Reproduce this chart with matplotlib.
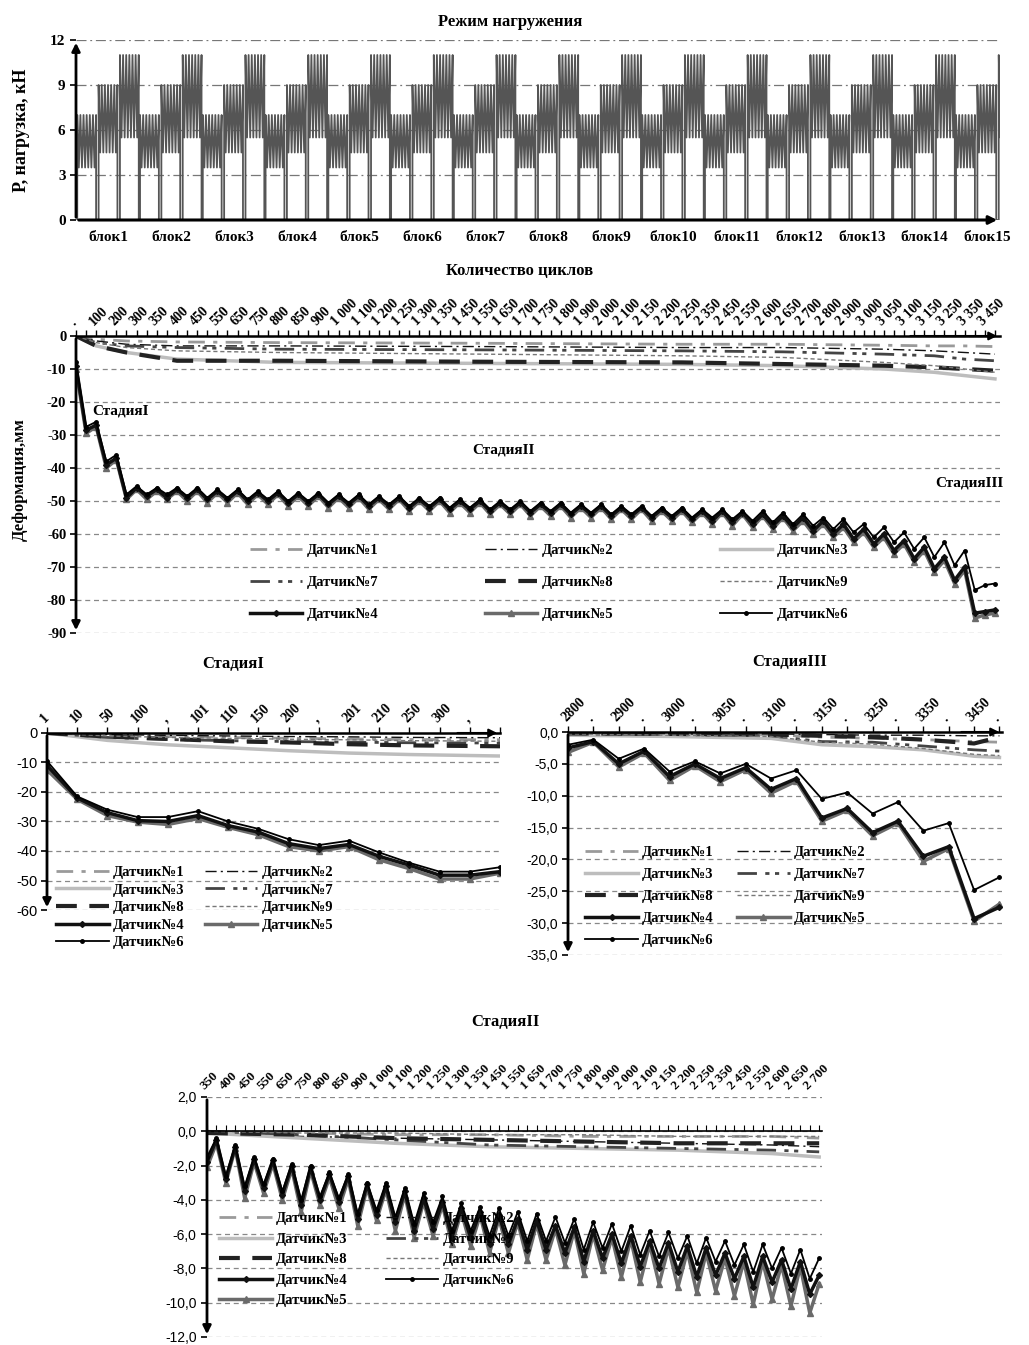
import numpy as np
import matplotlib.pyplot as plt

plt.rcParams['font.family'] = ['Liberation Serif', 'DejaVu Serif']
plt.rcParams['axes.unicode_minus'] = False

# ---- loading program (top chart) ----
BLOCKS = ['блок%d' % i for i in range(1, 16)]
LOAD_LEVELS = [(3.5, 7.0), (4.5, 9.0), (5.5, 11.0)]   # (min, max) kN of each stage in a block
CYCLES_PER_LEVEL = 6

# ---- full test: deformation vs cycles ----
MAIN_LABELS = ['.', '100', '200', '300', '350', '400', '450', '550', '650', '750', '800',
               '850', '900', '1 000', '1 100', '1 200', '1 250', '1 300', '1 350', '1 450',
               '1 550', '1 650', '1 700', '1 750', '1 800', '1 900', '2 000', '2 100',
               '2 150', '2 200', '2 250', '2 350', '2 450', '2 550', '2 600', '2 650',
               '2 700', '2 800', '2 900', '3 000', '3 050', '3 100', '3 150', '3 250',
               '3 350', '3 450']
main_s4 = [-9, -28.5, -27, -39, -37, -49, -46, -48.5, -46.5, -49, -46.5, -49, -46.5, -49.5,
           -47, -49.5, -47, -50, -47.5, -50, -47.5, -50.5, -48, -50.5, -48, -51, -48.5, -51,
           -48.5, -51.5, -49, -51.5, -49, -52, -49.5, -52, -49.5, -52.5, -50, -52.5, -50, -53,
           -50.5, -53, -50.5, -53.5, -51, -53.5, -51, -54, -51.5, -54, -51.5, -54.5, -52,
           -54.5, -52, -55, -52.5, -55, -52.5, -55.5, -53, -56, -53, -56.5, -53.5, -57, -54,
           -57.5, -54.5, -58, -55, -59, -56, -60, -57, -61.5, -58.5, -63, -60, -65, -62, -67.5,
           -64, -70.5, -67, -74, -70, -84, -83.5, -83]
main_s5 = [-10, -29.5, -27.5, -40, -37.5, -49.5, -46.5, -49.5, -47, -49.5, -47, -50, -47,
           -50.5, -47.5, -50.5, -47.5, -51, -48, -51, -48, -51.5, -48.5, -51.5, -48.5, -52,
           -49, -52, -49, -52.5, -49.5, -52.5, -49.5, -53, -50, -53, -50, -53.5, -50.5, -53.5,
           -50.5, -54, -51, -54, -51, -54.5, -51.5, -54.5, -51.5, -55, -52, -55, -52, -55.5,
           -52.5, -55.5, -52.5, -56, -53, -56, -53, -56.5, -53.5, -57, -53.5, -57.5, -54, -58,
           -54.5, -58.5, -55, -59, -56, -60, -57, -61, -58, -62.5, -59.5, -64, -61, -66, -63,
           -68.5, -65, -71.5, -68, -75, -71, -85.5, -84.5, -84]
main_s6 = [-8, -27.5, -26, -38, -36, -48, -45.5, -48, -46, -48, -46, -48.5, -46, -49, -46.5,
           -49, -46.5, -49.5, -47, -49.5, -47, -50, -47.5, -50, -47.5, -50.5, -48, -50.5, -48,
           -51, -48.5, -51, -48.5, -51.5, -49, -51.5, -49, -52, -49.5, -52, -49.5, -52.5, -50,
           -52.5, -50, -53, -50.5, -53, -50.5, -53.5, -51, -53.5, -51, -54, -51.5, -54, -51.5,
           -54.5, -52, -54.5, -52, -55, -52.5, -55, -52.5, -55.5, -53, -56, -53, -56.5, -53.5,
           -57, -54, -57.5, -55, -58.5, -55.5, -59.5, -57, -61, -58, -62.5, -59.5, -64.5, -61,
           -67, -62.5, -69.5, -65, -77, -75.5, -75]
main_light_idx = [0, 2, 5, 10, 20, 40, 60, 70, 80, 85, 88, 91]
main_light = {
    1: [0, -1, -1.5, -1.8, -2, -2.2, -2.5, -2.5, -2.8, -3, -3, -3.2],
    2: [0, -1.5, -2.5, -3, -3, -3.2, -3.5, -3.5, -4, -4.5, -5, -5.5],
    3: [0, -3, -5, -7, -8, -8.3, -8.6, -9, -10, -11, -12, -13],
    7: [0, -2, -3, -3.5, -4, -4.2, -4.5, -4.8, -5.5, -6, -7, -7.5],
    8: [0, -3, -5, -7.5, -7.5, -7.8, -8, -8.5, -9, -9.5, -10, -10.5],
    9: [0, -2, -3.5, -4.5, -5, -5.5, -6, -6.5, -8, -9, -10, -11],
}

# ---- stage I ----
ST1_LABELS = ['1', '10', '50', '100', ',', '101', '110', '150', '200', ',', '201', '210',
              '250', '300', ',', '']
st1_s4 = [-11, -22, -27, -29.7, -30, -28, -31.4, -33.6, -37.5, -39.2, -37.8, -41.8, -44.8,
          -48.2, -48.2, -47]
st1_s5 = [-12.5, -22.5, -28, -30.2, -31, -29, -32, -34.5, -38.5, -40, -38.5, -43, -46,
          -49.5, -49.5, -47.5]
st1_s6 = [-9.5, -21.5, -26, -28.5, -28.5, -26.5, -30, -32.5, -36, -38, -36.5, -40.5, -44,
          -47, -47, -45.5]
st1_light_idx = [0, 2, 4, 6, 8, 10, 12, 15]
st1_light = {
    1: [0, -0.8, -1.2, -1.5, -1.8, -2.0, -2.2, -2.3],
    2: [0, -0.5, -0.8, -1.0, -1.2, -1.3, -1.5, -1.6],
    3: [0, -2.5, -4.0, -5.0, -6.0, -6.8, -7.3, -7.8],
    7: [0, -1.5, -2.2, -2.6, -2.9, -3.1, -3.3, -3.4],
    8: [0, -1.2, -2.0, -2.8, -3.2, -3.8, -4.2, -4.5],
    9: [0, -1.0, -1.5, -1.8, -2.1, -2.3, -2.6, -2.8],
}

# ---- stage III ----
ST3_LABELS = ['2800', '.', '2900', '.', '3000', '.', '3050', '.', '3100', '.', '3150', '.',
              '3250', '.', '3350', '.', '3450', '.']
st3_s4 = [-2.5, -1.5, -5.0, -3.0, -7.0, -5.0, -7.3, -5.6, -9.0, -7.3, -13.5, -12.0, -15.8,
          -14.0, -19.5, -18.0, -29.3, -27.5]
st3_s5 = [-3.2, -1.6, -5.5, -3.3, -7.6, -5.3, -7.8, -5.9, -9.6, -7.7, -14.0, -12.3, -16.3,
          -14.3, -20.3, -18.3, -29.7, -27.0]
st3_s6 = [-2.0, -1.2, -4.2, -2.6, -6.2, -4.6, -6.5, -5.0, -7.3, -6.0, -10.5, -9.5, -12.8,
          -11.0, -15.5, -14.3, -24.8, -22.8]
st3_light_idx = [0, 4, 8, 10, 12, 14, 16, 17]
st3_light = {
    1: [-0.2, -0.3, -0.4, -0.8, -1.0, -1.2, -1.5, -1.6],
    2: [-0.2, -0.3, -0.3, -0.4, -0.5, -0.5, -0.6, -0.6],
    3: [-0.5, -0.7, -1.0, -2.0, -2.3, -2.8, -3.8, -4.0],
    7: [-0.3, -0.4, -0.6, -1.5, -1.6, -2.2, -2.8, -3.0],
    8: [-0.2, -0.3, -0.4, -0.6, -0.8, -1.2, -1.8, -0.8],
    9: [-0.3, -0.5, -0.7, -1.6, -1.9, -2.6, -3.5, -3.7],
}

# ---- stage II ----
ST2_LABELS = ['350', '400', '450', '550', '650', '750', '800', '850', '900', '1 000', '1 100',
              '1 200', '1 250', '1 300', '1 350', '1 450', '1 550', '1 650', '1 700', '1 750',
              '1 800', '1 900', '2 000', '2 100', '2 150', '2 200', '2 250', '2 350', '2 450',
              '2 550', '2 600', '2 650', '2 700']
st2_s4 = [-1.8, -0.5, -2.8, -0.9, -3.5, -1.6, -3.3, -1.7, -3.7, -2.0,
          -4.3, -2.1, -4.0, -2.5, -4.1, -2.6, -5.1, -3.1, -4.9, -3.2,
          -5.3, -3.5, -5.8, -3.9, -5.7, -4.1, -6.2, -4.5, -6.2, -4.7,
          -6.6, -4.9, -6.6, -5.1, -6.9, -5.2, -6.9, -5.5, -7.1, -5.6,
          -7.6, -5.8, -7.4, -6.0, -7.7, -6.1, -7.9, -6.4, -8.0, -6.5,
          -8.2, -6.7, -8.5, -6.8, -8.4, -7.1, -8.6, -7.3, -9.1, -7.3,
          -8.8, -7.5, -9.2, -7.6, -9.5, -8.4]
st2_s5 = [-2.1, -0.7, -3.0, -1.0, -3.9, -1.8, -3.6, -1.9, -4.0, -2.2,
          -4.7, -2.3, -4.3, -2.7, -4.5, -2.8, -5.5, -3.3, -5.2, -3.4,
          -5.8, -3.7, -6.2, -4.1, -6.1, -4.3, -6.6, -4.7, -6.7, -4.9,
          -7.1, -5.1, -7.1, -5.3, -7.5, -5.4, -7.5, -5.7, -7.8, -5.8,
          -8.3, -6.0, -8.1, -6.2, -8.5, -6.3, -8.8, -6.6, -8.9, -6.8,
          -9.1, -7.0, -9.4, -7.1, -9.3, -7.4, -9.6, -7.6, -10.1, -7.6,
          -9.8, -7.8, -10.2, -7.9, -10.6, -8.9]
st2_s6 = [-1.5, -0.4, -2.6, -0.8, -3.2, -1.5, -3.1, -1.6, -3.5, -1.9,
          -4.0, -2.0, -3.8, -2.4, -3.9, -2.5, -4.8, -3.0, -4.6, -3.0,
          -5.0, -3.3, -5.4, -3.6, -5.3, -3.8, -5.8, -4.2, -5.8, -4.4,
          -6.1, -4.5, -6.1, -4.7, -6.4, -4.8, -6.4, -5.0, -6.5, -5.1,
          -6.9, -5.3, -6.8, -5.4, -7.0, -5.5, -7.2, -5.8, -7.3, -5.9,
          -7.4, -6.1, -7.7, -6.2, -7.6, -6.4, -7.8, -6.6, -8.2, -6.6,
          -8.0, -6.8, -8.3, -6.9, -8.6, -7.4]
st2_light_idx = [0, 10, 20, 30, 40, 50, 60, 65]
st2_light = {
    1: [0, -0.1, -0.2, -0.2, -0.3, -0.3, -0.3, -0.4],
    2: [-0.1, -0.3, -0.4, -0.5, -0.6, -0.7, -0.8, -0.9],
    3: [-0.1, -0.4, -0.7, -0.9, -1.0, -1.1, -1.3, -1.5],
    7: [0, -0.2, -0.5, -0.8, -0.9, -1.0, -1.1, -1.2],
    8: [-0.1, -0.2, -0.4, -0.5, -0.6, -0.7, -0.7, -0.7],
    9: [0, -0.1, -0.1, -0.2, -0.2, -0.3, -0.3, -0.3],
}

STYLE = {
    1: dict(color='#9a9a9a', lw=2.0, ls=(0, (6, 3, 1.5, 3))),
    2: dict(color='#111111', lw=1.0, ls=(0, (8, 3, 1.5, 3))),
    3: dict(color='#bdbdbd', lw=2.5, ls='-'),
    7: dict(color='#444444', lw=2.0, ls=(0, (7, 3, 1.5, 2, 1.5, 3))),
    8: dict(color='#222222', lw=3.0, ls=(0, (5, 3))),
    9: dict(color='#777777', lw=1.0, ls=(0, (3, 2))),
    4: dict(color='#111111', lw=2.5, marker='D', ms=3),
    5: dict(color='#6a6a6a', lw=2.5, marker='^', ms=4),
    6: dict(color='#000000', lw=1.3, marker='o', ms=2.5),
}

W, H = 1029, 1345
fig = plt.figure(figsize=(W / 100, H / 100), dpi=100)


def box(l, t, r, b):
    return [l / W, 1 - b / H, (r - l) / W, (b - t) / H]


def ftext(x, y, s, **kw):
    fig.text(x / W, 1 - y / H, s, ha='center', va='center', **kw)


def sensors(ax, heavy, light_idx, light):
    h = {}
    for n, vals in light.items():
        h[n], = ax.plot(light_idx, vals, **STYLE[n])
    for n, vals in heavy.items():
        h[n], = ax.plot(range(len(vals)), vals, **STYLE[n], zorder=3)
    return h


def frame(ax, yticks, ylabels, yfont, arrow_x=True):
    ax.set_yticks(yticks)
    ax.set_yticklabels(ylabels, **yfont)
    ax.yaxis.grid(True, ls=(0, (4, 3)), color='#888888', lw=0.9)
    ax.set_axisbelow(True)
    for s in ['left', 'right', 'bottom']:
        ax.spines[s].set_visible(False)
    ax.spines['top'].set_linewidth(1.8)
    ax.tick_params(axis='y', length=4, width=1.2, pad=3)
    ax.annotate('', xy=(0, 0), xytext=(0, 1), xycoords='axes fraction',
                arrowprops=dict(arrowstyle='-|>', color='k', lw=2, mutation_scale=12))
    if arrow_x:
        ax.annotate('', xy=(1.0, 1), xytext=(0.9, 1), xycoords='axes fraction',
                    arrowprops=dict(arrowstyle='-|>', color='k', lw=1.5, mutation_scale=12))


def top_labels(ax, n, labels, step, fs, **kw):
    ax.xaxis.tick_top()
    ax.set_xticks(range(n))
    full = [''] * n
    for i, lab in enumerate(labels):
        if i * step < n:
            full[i * step] = lab
    ax.set_xticklabels(full, rotation=45, ha='left', rotation_mode='anchor', fontsize=fs, **kw)
    ax.tick_params(axis='x', direction='out', length=4, width=1, pad=2)


LEG = dict(frameon=False, handlelength=3.6, handletextpad=0.3, borderaxespad=0, borderpad=0,
           prop=dict(family='Liberation Serif', weight='bold', size=10.5))

# ---------- panel 1: loading ----------
ax1 = fig.add_axes(box(76, 40, 1000, 220))
px, py = [], []
for b in range(len(BLOCKS)):
    for k, (lo, hi) in enumerate(LOAD_LEVELS):
        x0 = b + k * 0.34
        xs = np.linspace(x0, x0 + 0.3, 2 * CYCLES_PER_LEVEL + 1)
        px.append(x0)
        py.append(0)
        for i, x in enumerate(xs):
            px.append(x)
            py.append(hi if i % 2 == 0 else lo)
        px.append(xs[-1])
        py.append(0)
ax1.plot(px, py, color='#555555', lw=1.3)
ax1.set_xlim(-0.02, 14.7)
ax1.set_ylim(0, 12)
ax1.set_yticks([0, 3, 6, 9, 12])
ax1.set_yticklabels(['0', '3', '6', '9', '12'], fontsize=11, weight='bold')
ax1.yaxis.grid(True, ls=(0, (8, 3, 1.5, 3)), color='#777777', lw=0.9)
ax1.set_xticks(np.arange(len(BLOCKS)) + 0.5)
ax1.set_xticklabels(BLOCKS, fontsize=11, weight='bold')
ax1.tick_params(axis='x', length=0, pad=8)
ax1.tick_params(axis='y', length=4, width=1.2)
for s in ['left', 'right', 'top', 'bottom']:
    ax1.spines[s].set_visible(False)
ax1.annotate('', xy=(0, 1.0), xytext=(0, 0), xycoords='axes fraction',
             arrowprops=dict(arrowstyle='-|>', color='k', lw=2, mutation_scale=12))
ax1.annotate('', xy=(1.0, 0), xytext=(0, 0), xycoords='axes fraction',
             arrowprops=dict(arrowstyle='-|>', color='k', lw=2.2, mutation_scale=12))
ftext(510, 22, 'Режим нагружения', fontsize=12, weight='bold')
ftext(22, 130, 'Р, нагрузка, кН', fontsize=13, weight='bold', rotation=90)

# ---------- panel 2: whole test ----------
ax2 = fig.add_axes(box(76, 336, 1000, 633))
h = sensors(ax2, {5: main_s5, 4: main_s4, 6: main_s6}, main_light_idx, main_light)
ax2.set_xlim(0, 91.5)
ax2.set_ylim(-90, 0)
frame(ax2, range(0, -91, -10), [str(v) for v in range(0, -91, -10)],
      dict(fontsize=10.5, weight='bold'))
top_labels(ax2, 92, MAIN_LABELS, 2, 10, weight='bold')
ax2.text(1.6, -22.7, 'СтадияI', fontsize=11, weight='bold', va='center')
ax2.text(42.3, -34.5, 'СтадияII', fontsize=11, weight='bold', ha='center', va='center')
ax2.text(88.5, -44.5, 'СтадияIII', fontsize=11, weight='bold', ha='center', va='center')
order = [1, 7, 4, 2, 8, 5, 3, 9, 6]
ax2.legend([h[n] for n in order], ['Датчик№%d' % n for n in order], ncol=3,
           loc='upper left', bbox_to_anchor=(0.188, 0.30), labelspacing=1.3,
           columnspacing=7.3, **LEG)
ftext(520, 271, 'Количество циклов', fontsize=12, weight='bold')
ftext(20, 480, 'Деформация,мм', fontsize=12, weight='bold', rotation=90)

# ---------- panel 3: stage I ----------
ax3 = fig.add_axes(box(47, 733, 500, 910))
h = sensors(ax3, {5: st1_s5, 4: st1_s4, 6: st1_s6}, st1_light_idx, st1_light)
ax3.set_xlim(0, 15)
ax3.set_ylim(-60, 0)
frame(ax3, range(0, -61, -10), [str(v) for v in range(0, -61, -10)],
      dict(fontsize=10.5, family='Liberation Sans'))
top_labels(ax3, 16, ST1_LABELS, 1, 10, weight='bold')
order = [1, 3, 8, 4, 6, 2, 7, 9, 5]
ax3.legend([h[n] for n in order], ['Датчик№%d' % n for n in order], ncol=2,
           loc='upper left', bbox_to_anchor=(0.02, 0.25), labelspacing=0.3,
           columnspacing=1.4, **LEG)
ftext(233, 664, 'СтадияI', fontsize=12, weight='bold')

# ---------- panel 4: stage III ----------
ax4 = fig.add_axes(box(568, 732, 1002, 955))
h = sensors(ax4, {5: st3_s5, 4: st3_s4, 6: st3_s6}, st3_light_idx, st3_light)
ax4.set_xlim(0, 17.1)
ax4.set_ylim(-35, 0)
vals = [0, -5, -10, -15, -20, -25, -30, -35]
frame(ax4, vals, [('%.1f' % v).replace('.', ',') for v in vals],
      dict(fontsize=10, family='Liberation Sans'))
top_labels(ax4, 18, ST3_LABELS, 1, 10, weight='bold')
ax4.legend([h[n] for n in order], ['Датчик№%d' % n for n in order], ncol=2,
           loc='upper left', bbox_to_anchor=(0.04, 0.49), labelspacing=0.6,
           columnspacing=1.6, **LEG)
ftext(790, 662, 'СтадияIII', fontsize=12, weight='bold')

# ---------- panel 5: stage II ----------
ax5 = fig.add_axes(box(207, 1097, 822, 1337))
h = sensors(ax5, {5: st2_s5, 4: st2_s4, 6: st2_s6}, st2_light_idx, st2_light)
ax5.set_xlim(0, 65.3)
ax5.set_ylim(-12, 2)
vals = [2, 0, -2, -4, -6, -8, -10, -12]
ax5.set_yticks(vals)
ax5.set_yticklabels([('%.1f' % v).replace('.', ',') for v in vals], fontsize=10,
                    family='Liberation Sans')
ax5.yaxis.grid(True, ls=(0, (4, 3)), color='#888888', lw=0.9)
ax5.set_axisbelow(True)
for s in ['left', 'right', 'top']:
    ax5.spines[s].set_visible(False)
ax5.spines['bottom'].set_position(('data', 0))
ax5.spines['bottom'].set_linewidth(1.2)
ax5.set_xticks(range(66))
full = [''] * 66
for i, lab in enumerate(ST2_LABELS):
    full[2 * i] = lab
ax5.set_xticklabels(full, rotation=45, ha='left', rotation_mode='anchor', fontsize=9.5,
                    weight='bold')
ax5.tick_params(axis='x', bottom=True, top=False, labelbottom=False, labeltop=True,
                direction='in', length=4, width=0.8)
ax5.tick_params(axis='y', length=4, width=1.2)
ax5.annotate('', xy=(0, 0), xytext=(0, 1), xycoords='axes fraction',
             arrowprops=dict(arrowstyle='-|>', color='k', lw=2, mutation_scale=12))
order = [1, 3, 8, 4, 5, 2, 7, 9, 6]
ax5.legend([h[n] for n in order], ['Датчик№%d' % n for n in order], ncol=2,
           loc='upper left', bbox_to_anchor=(0.02, 0.52), labelspacing=0.5,
           columnspacing=2.6, **LEG)
ftext(505, 1022, 'СтадияII', fontsize=12, weight='bold')

fig.savefig('out.png', dpi=100)
